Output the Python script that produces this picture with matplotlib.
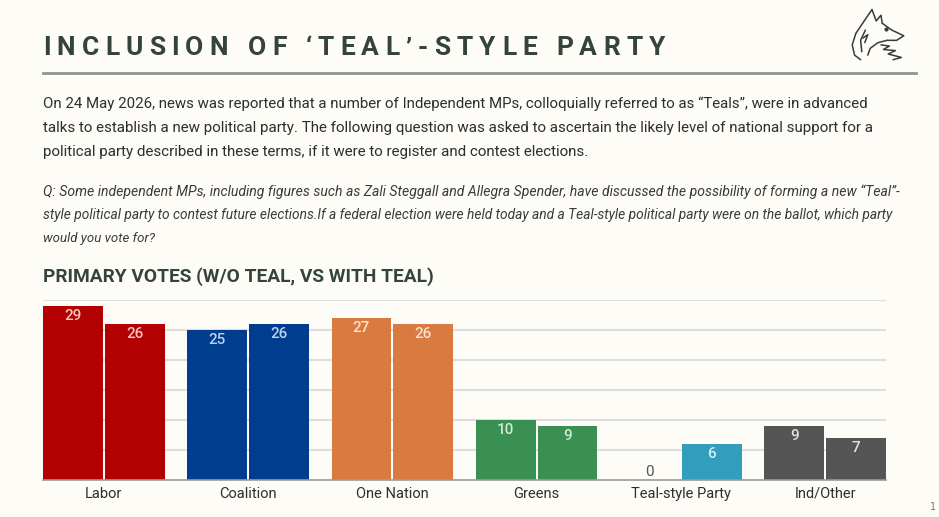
import matplotlib
matplotlib.use("Agg")
import matplotlib.pyplot as plt
from matplotlib.lines import Line2D
import numpy as np

# data
parties = ["Labor", "Coalition", "One Nation", "Greens", "Teal-style Party", "Ind/Other"]
without_teal = [29, 25, 27, 10, 0, 9]
with_teal = [26, 26, 26, 9, 6, 7]
bar_colors = ["#B30000", "#003D8F", "#D97B40", "#3A8F52", "#339EBC", "#555555"]
label_colors = ["#F6C9C2", "#BCD0EE", "#FBE1CF", "#D2EAD8", "#D5EFF6", "#E2E2E2"]

title = "INCLUSION OF \u2018TEAL\u2019-STYLE PARTY"
subtitle = "PRIMARY VOTES (W/O TEAL, VS WITH TEAL)"
intro = [
    "On 24 May 2026, news was reported that a number of Independent MPs, colloquially referred to as \u201cTeals\u201d, were in advanced",
    "talks to establish a new political party. The following question was asked to ascertain the likely level of national support for a",
    "political party described in these terms, if it were to register and contest elections.",
]
question = [
    "Q: Some independent MPs, including figures such as Zali Steggall and Allegra Spender, have discussed the possibility of forming a new \u201cTeal\u201d-",
    "style political party to contest future elections.If a federal election were held today and a Teal-style political party were on the ballot, which party",
    "would you vote for?",
]

W, H = 939, 517
BG = "#FDFCF7"
DARK = "#34443C"

fig = plt.figure(figsize=(W / 100, H / 100), dpi=100, facecolor=BG)
renderer = fig.canvas.get_renderer()


def fx(x):
    return x / W


def fy(y):
    return 1 - y / H


def fit_text(x, y, s, right, size, **kw):
    # place text and scale its font so it ends at `right` px
    t = fig.text(fx(x), fy(y), s, fontsize=size, va="center", ha="left", **kw)
    bb = t.get_window_extent(renderer)
    t.set_fontsize(size * (right - x) / bb.width)
    return t


def width_of(s, **kw):
    t = fig.text(0, 0, s, **kw)
    w = t.get_window_extent(renderer).width
    t.remove()
    return w


# letter-spaced title
tkw = dict(fontsize=19, fontweight="bold", family="Roboto")
widths = []
for c in title:
    if c == " ":
        widths.append(width_of("a a", **tkw) - width_of("aa", **tkw))
    else:
        widths.append(width_of(c, **tkw))
x0, x1 = 43, 665
spacing = (x1 - x0 - sum(widths)) / (len(title) - 1)
x = x0
for c, w in zip(title, widths):
    if c != " ":
        fig.text(fx(x), fy(48), c, va="center", ha="left", color=DARK, **tkw)
    x += w + spacing

# rule under title
fig.add_artist(Line2D([fx(43), fx(916)], [fy(73), fy(73)], color="#939393", lw=2))

# intro paragraph
intro_right = [873, 877, 592]
for line, yy, r in zip(intro, [104, 128, 152], intro_right):
    fit_text(43, yy, line, r, 10.5, family="Roboto", color="#2E2E2E")

q_right = [905, 896, 155]
for line, yy, r in zip(question, [192, 215, 238], q_right):
    fit_text(43, yy, line, r, 9, family="Roboto", style="italic", color="#3A3A3A")

fit_text(43, 277, subtitle, 432, 13, family="Roboto", fontweight="bold", color=DARK)

# simple fox sketch logo
lax = fig.add_axes([fx(845), fy(62), 60 / W, 57 / H])
lax.set_xlim(0, 100)
lax.set_ylim(100, 0)
lax.axis("off")
lc = "#3A3A3A"
strokes = [
    [(45, 8), (32, 28), (18, 50), (12, 70), (16, 88), (26, 96)],
    [(45, 8), (52, 28), (60, 18), (62, 32)],
    [(62, 32), (78, 44), (98, 54), (86, 62), (70, 62)],
    [(70, 62), (55, 66), (42, 76), (38, 88)],
    [(60, 70), (74, 72), (64, 78), (84, 80), (72, 86), (94, 92), (80, 96)],
    [(34, 44), (26, 62), (28, 82)],
    [(30, 58), (38, 52), (33, 66)],
]
for s in strokes:
    xs, ys = zip(*s)
    lax.plot(xs, ys, color=lc, lw=1.1, solid_capstyle="round")
lax.plot([68], [42], "o", color=lc, ms=2)

# chart
ax = fig.add_axes([fx(43), fy(480), 843 / W, 180 / H])
ax.set_facecolor(BG)
idx = np.arange(len(parties))
bw = 0.415
gap = 0.014
off = bw / 2 + gap / 2

b1 = ax.bar(idx - off, without_teal, width=bw, color=bar_colors, zorder=3)
b2 = ax.bar(idx + off, with_teal, width=bw, color=bar_colors, zorder=3)

for bars, vals in [(b1, without_teal), (b2, with_teal)]:
    for rect, v, lcol in zip(bars, vals, label_colors):
        cx = rect.get_x() + rect.get_width() / 2
        if v == 0:
            ax.annotate(str(v), (cx, 0), xytext=(0, 6), textcoords="offset points",
                        ha="center", va="center", fontsize=11, family="Roboto",
                        color="#555555", zorder=4)
        else:
            ax.annotate(str(v), (cx, v), xytext=(0, -7), textcoords="offset points",
                        ha="center", va="center", fontsize=11, family="Roboto",
                        fontweight="medium", color=lcol, zorder=4)

ax.set_xlim(-bw - gap / 2, len(parties) - 1 + bw + gap / 2)
ax.set_ylim(0, 30)
ax.set_yticks([5, 10, 15, 20, 25, 30])
ax.yaxis.grid(True, color="#DEDEDE", lw=1.5, zorder=0)
ax.tick_params(axis="y", left=False, labelleft=False)
ax.set_xticks(idx)
ax.set_xticklabels(parties, family="Roboto", fontsize=10.5, color="#2E2E2E")
ax.tick_params(axis="x", length=0, pad=5)
for sp in ["top", "right", "left"]:
    ax.spines[sp].set_visible(False)
ax.spines["bottom"].set_color("#9A9A9A")
ax.spines["bottom"].set_linewidth(1.2)
ax.spines["bottom"].set_zorder(5)

fig.text(fx(933), fy(507), "1", fontsize=7, color="#777777", ha="center", va="center",
         family="DejaVu Sans Mono")

fig.savefig("out.png", dpi=100, facecolor=BG)
